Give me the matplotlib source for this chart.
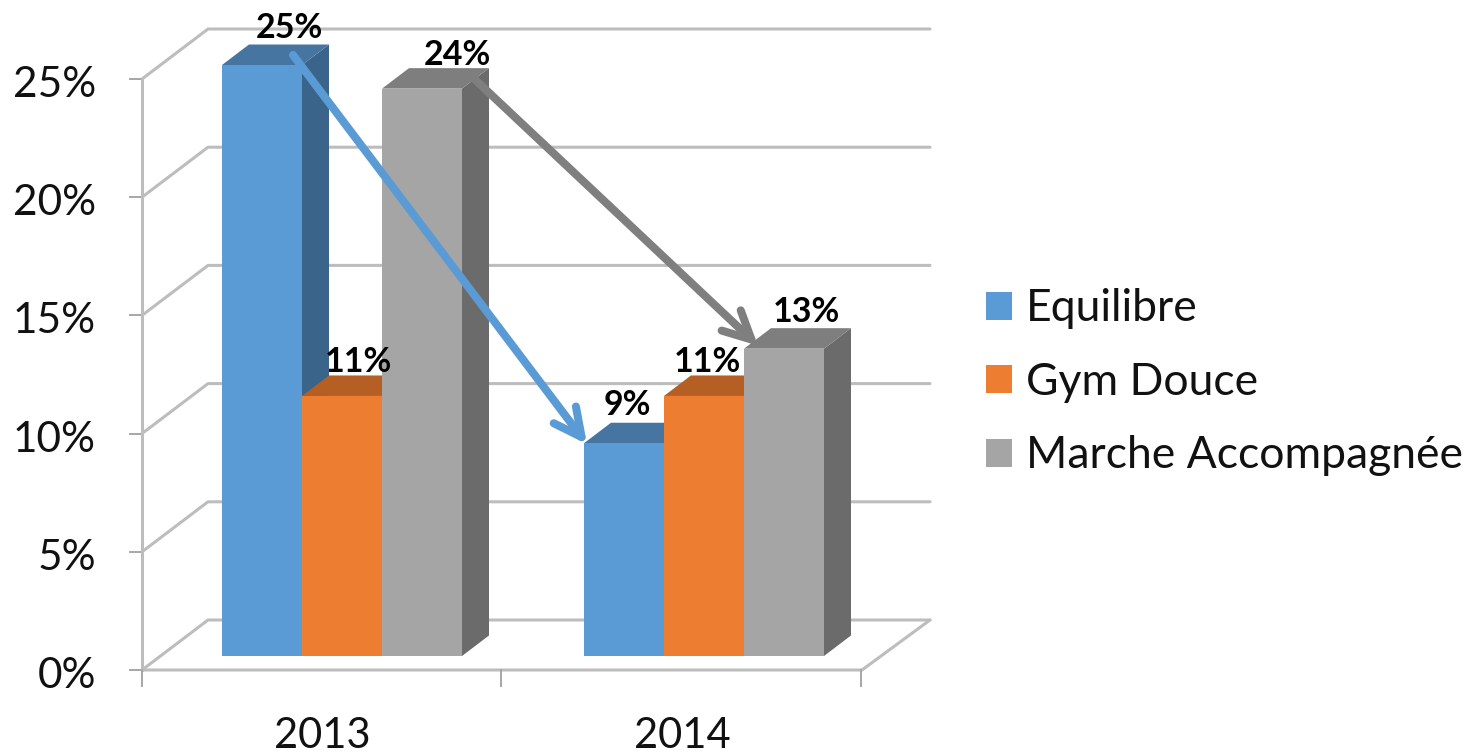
import matplotlib
matplotlib.use("Agg")
import matplotlib.pyplot as plt
from matplotlib.patches import Polygon, Patch

years = ["2013", "2014"]
series = ["Equilibre", "Gym Douce", "Marche Accompagnée"]
equilibre = [25, 9]
gym_douce = [11, 11]
marche = [24, 13]
y_ticks = [0, 5, 10, 15, 20, 25]

plt.rcParams['font.family'] = ['Lato', 'DejaVu Sans']
W, H = 1468, 752
fig = plt.figure(figsize=(W / 100, H / 100), dpi=100)
ax = fig.add_axes([0, 0, 1, 1])
ax.axis('off')
PX = 23.64          # pixels per percent on the bars
ax.set_xlim(0, W)
ax.set_ylim((656 - H) / PX, 656 / PX)

def py(px):
    return (656 - px) / PX

GRID = '#BDBDBD'
GLW = 2.2
# wall geometry, pixel x, percent y
FX0, FX1, BX0, BX1 = 142, 862, 208, 930
wall_dy = 50 / PX
base = py(670)
scale = (670 - 79) / 25 / PX
for t in y_ticks:
    yf = base + t * scale
    yb = yf + wall_dy
    ax.plot([FX0, BX0, BX1], [yf, yb, yb], color=GRID, lw=GLW, zorder=1, solid_capstyle='round')
    ax.plot([130, FX0], [yf, yf], color='#A6A6A6', lw=1.4, zorder=1)
    ax.text(96, yf - 6 / PX, f"{t}%", ha='right', va='center', fontsize=30.5, color='#111111')
ax.plot([FX0, FX0], [base, base + 25 * scale], color=GRID, lw=GLW, zorder=1)
ax.plot([FX0, FX1, BX1], [base, base, base + wall_dy], color=GRID, lw=GLW, zorder=1, solid_capstyle='round')
for x in [142, 501, 861]:
    ax.plot([x, x], [base, py(686)], color='#A6A6A6', lw=1.4, zorder=1)
for x, lab in zip([322, 682], years):
    ax.text(x, py(736), lab, ha='center', va='center', fontsize=30, color='#111111')

# bars
FRONT = ['#5B9BD5', '#ED7D31', '#A5A5A5']
TOP = ['#4675A2', '#B55F24', '#7E7E7E']
SIDE = ['#3A6489', '#A5551E', '#6B6B6B']
DX, DY = 27, 20.5 / PX
BW = 80
starts = [222, 584]
values = [equilibre, gym_douce, marche]
label_pos = [[(289, 27), (627, 404)], [(358, 361), (707, 361)], [(457, 54), (806, 311)]]
z = 2
for g, x0 in enumerate(starts):
    for s, vals in enumerate(values):
        v = vals[g]
        l, r = x0 + s * BW, x0 + (s + 1) * BW
        ax.add_patch(Polygon([(r, 0), (r + DX, DY), (r + DX, v + DY), (r, v)], fc=SIDE[s], ec='none', zorder=z))
        ax.add_patch(Polygon([(l, v), (l + DX, v + DY), (r + DX, v + DY), (r, v)], fc=TOP[s], ec='none', zorder=z))
        ax.bar(l, v, width=BW, align='edge', color=FRONT[s], zorder=z + 0.5)
        z += 1
for s, vals in enumerate(values):
    for g, v in enumerate(vals):
        lx, ly = label_pos[s][g]
        ax.text(lx, py(ly + 1), f"{v}%", ha='center', va='center', fontsize=24.5, fontweight='bold',
                color='black', zorder=30)

# arrows between years
def arrow(p0, p1, col):
    ax.annotate('', xy=p1, xytext=p0, zorder=40,
                arrowprops=dict(arrowstyle='->,head_length=2.0,head_width=1.0', color=col, lw=5.8,
                                shrinkA=0, shrinkB=0, capstyle='round', joinstyle='round'))
arrow((293, equilibre[0] + 10 / PX), (587, equilibre[1] - 1 / PX), '#5B9BD5')
arrow((473, marche[0] + 11 / PX), (758, marche[1] + 3 / PX), '#7F7F7F')

handles = [Patch(fc=c, ec='none') for c in FRONT]
leg = ax.legend(handles, series, loc='upper left', bbox_to_anchor=(972.5 / W, 1 - 275 / H),
                bbox_transform=fig.transFigure, frameon=False, fontsize=32,
                handlelength=0.59, handleheight=0.59, handletextpad=0.32,
                labelspacing=0.73, borderpad=0.3, borderaxespad=0)
for t in leg.get_texts():
    t.set_color('#111111')
fig.savefig('out.png', dpi=100)
